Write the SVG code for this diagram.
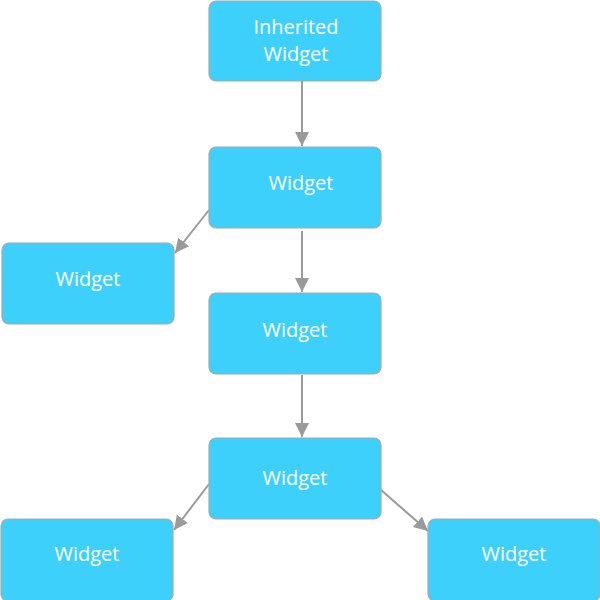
<svg xmlns="http://www.w3.org/2000/svg" width="600" height="600" viewBox="0 0 600 600">
<style>
.n rect{fill:#3dd0fb;stroke:#a8a8a8;stroke-width:1.2}
.n text{fill:#ffffff;font-family:"Open Sans","Noto Sans",sans-serif;font-size:20px;text-anchor:middle}
.c line{stroke:#9a9a9a;stroke-width:2;fill:none}
</style>
<defs>
<marker id="ah" markerWidth="16" markerHeight="16" refX="14" refY="8" orient="auto" markerUnits="userSpaceOnUse">
<path d="M0,1 L14,8 L0,15 Z" fill="#9a9a9a"/>
</marker>
</defs>
<rect width="600" height="600" fill="#ffffff"/>
<g class="c">
<line x1="302" y1="81" x2="302" y2="146" marker-end="url(#ah)"/>
<line x1="302" y1="231" x2="302" y2="292" marker-end="url(#ah)"/>
<line x1="302" y1="375" x2="302" y2="437" marker-end="url(#ah)"/>
<line x1="209" y1="210" x2="175" y2="253" marker-end="url(#ah)"/>
<line x1="209" y1="484" x2="174" y2="530" marker-end="url(#ah)"/>
<line x1="381" y1="490" x2="428" y2="531" marker-end="url(#ah)"/>
</g>
<g id="n1" class="n"><rect x="209" y="1" width="172" height="80" rx="7"/><text x="296" y="34">Inherited</text><text x="296" y="61">Widget</text></g>
<g id="n2" class="n"><rect x="209" y="147" width="172" height="81" rx="7"/><text x="301" y="190">Widget</text></g>
<g id="n3" class="n"><rect x="2" y="243" width="172" height="81" rx="7"/><text x="88" y="286">Widget</text></g>
<g id="n4" class="n"><rect x="209" y="293" width="172" height="81" rx="7"/><text x="295" y="337">Widget</text></g>
<g id="n5" class="n"><rect x="209" y="438" width="172" height="81" rx="7"/><text x="295" y="485">Widget</text></g>
<g id="n6" class="n"><rect x="1" y="519" width="172" height="82" rx="7"/><text x="87" y="561">Widget</text></g>
<g id="n7" class="n"><rect x="428" y="519" width="172" height="82" rx="7"/><text x="514" y="561">Widget</text></g>
</svg>
